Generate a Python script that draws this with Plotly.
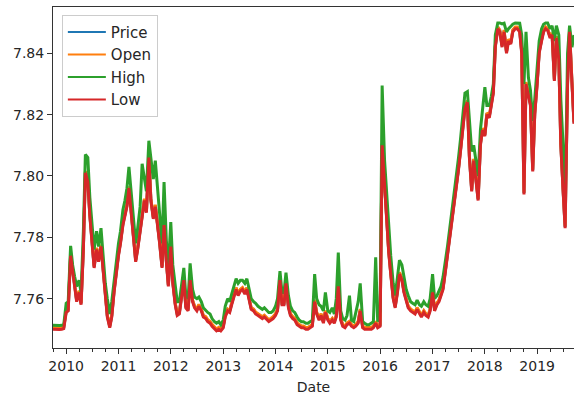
import pandas as pd
import plotly.graph_objects as go

# semi-monthly sampling, 2009-10-01 .. 2019-09-15
DATES = pd.date_range("2009-10-01", periods=240, freq="SMS")

LOW = [
    7.7500, 7.7499, 7.7500, 7.7499, 7.7500, 7.7502,
    7.7555, 7.7560, 7.7740, 7.7680, 7.7640, 7.7590,
    7.7620, 7.7580, 7.7760, 7.8010, 7.7980, 7.7870,
    7.7780, 7.7700, 7.7760, 7.7720, 7.7770, 7.7700,
    7.7600, 7.7540, 7.7505, 7.7540, 7.7620, 7.7680,
    7.7740, 7.7780, 7.7840, 7.7870, 7.7900, 7.7960,
    7.7880, 7.7800, 7.7720, 7.7760, 7.7820, 7.7880,
    7.7920, 7.7880, 7.8060, 7.7920, 7.7860, 7.7900,
    7.7840, 7.7780, 7.7700, 7.7840, 7.7720, 7.7640,
    7.7770, 7.7650, 7.7580, 7.7545, 7.7550, 7.7600,
    7.7660, 7.7570, 7.7560, 7.7660, 7.7590, 7.7570,
    7.7560, 7.7575, 7.7560, 7.7540, 7.7535, 7.7525,
    7.7520, 7.7510, 7.7500, 7.7495, 7.7500, 7.7495,
    7.7505, 7.7540, 7.7560, 7.7555, 7.7580, 7.7600,
    7.7630, 7.7610, 7.7625, 7.7630, 7.7615, 7.7630,
    7.7600, 7.7565, 7.7560, 7.7550, 7.7545, 7.7540,
    7.7535, 7.7540, 7.7530, 7.7525, 7.7530, 7.7535,
    7.7545, 7.7560, 7.7660, 7.7580, 7.7580, 7.7650,
    7.7570, 7.7545, 7.7535, 7.7530, 7.7515, 7.7510,
    7.7505, 7.7505, 7.7500, 7.7500, 7.7505, 7.7510,
    7.7590, 7.7550, 7.7530, 7.7545, 7.7520, 7.7555,
    7.7530, 7.7520, 7.7530, 7.7520, 7.7540, 7.7640,
    7.7530, 7.7510, 7.7505, 7.7515, 7.7520, 7.7510,
    7.7505, 7.7510, 7.7520, 7.7560, 7.7505, 7.7500,
    7.7500, 7.7500, 7.7500, 7.7505, 7.7520, 7.7505,
    7.7510, 7.8100, 7.7960, 7.7860, 7.7750, 7.7680,
    7.7600, 7.7570, 7.7620, 7.7680, 7.7660, 7.7620,
    7.7590, 7.7570, 7.7560, 7.7555, 7.7550, 7.7565,
    7.7550, 7.7540, 7.7555, 7.7545, 7.7540, 7.7560,
    7.7620, 7.7560, 7.7580, 7.7590, 7.7610, 7.7630,
    7.7690, 7.7740, 7.7790, 7.7840, 7.7900, 7.7950,
    7.8020, 7.8080, 7.8150, 7.8220, 7.8240, 7.8060,
    7.7950, 7.8050, 7.7980, 7.7920, 7.8100, 7.8150,
    7.8130, 7.8200, 7.8190, 7.8230, 7.8270, 7.8420,
    7.8480, 7.8470, 7.8420, 7.8470, 7.8400, 7.8440,
    7.8430, 7.8470, 7.8480, 7.8480, 7.8470, 7.8400,
    7.7940, 7.8300, 7.8260, 7.8230, 7.8015, 7.8200,
    7.8300, 7.8400, 7.8440, 7.8470, 7.8480, 7.8475,
    7.8450, 7.8460, 7.8310, 7.8450, 7.8380, 7.8100,
    7.7950, 7.7830, 7.8300, 7.8470, 7.8300, 7.8170,
]

HIGH = [
    7.7513, 7.7512, 7.7513, 7.7512, 7.7513, 7.7515,
    7.7585, 7.7590, 7.7772, 7.7710, 7.7672, 7.7640,
    7.7660, 7.7620, 7.7820, 7.8070, 7.8060, 7.7930,
    7.7840, 7.7760, 7.7820, 7.7770, 7.7830, 7.7740,
    7.7650, 7.7600, 7.7550, 7.7590, 7.7660, 7.7720,
    7.7780, 7.7820, 7.7890, 7.7920, 7.7960, 7.8030,
    7.7940, 7.7870, 7.7780, 7.7830, 7.7900, 7.8040,
    7.7990, 7.7950, 7.8115, 7.8060, 7.7990, 7.8050,
    7.7960, 7.7860, 7.7780, 7.7980, 7.7790, 7.7700,
    7.7850, 7.7710, 7.7640, 7.7590, 7.7590, 7.7640,
    7.7700, 7.7610, 7.7600, 7.7715, 7.7630, 7.7605,
    7.7600, 7.7605, 7.7590, 7.7570, 7.7560, 7.7555,
    7.7550, 7.7535, 7.7525, 7.7520, 7.7525, 7.7515,
    7.7530, 7.7575, 7.7600, 7.7590, 7.7615, 7.7640,
    7.7665, 7.7650, 7.7660, 7.7660, 7.7650, 7.7665,
    7.7635, 7.7600, 7.7590, 7.7585, 7.7575, 7.7570,
    7.7565, 7.7570, 7.7560, 7.7555, 7.7555, 7.7560,
    7.7575, 7.7600, 7.7690, 7.7620, 7.7620, 7.7685,
    7.7610, 7.7575, 7.7560, 7.7555, 7.7540, 7.7530,
    7.7525, 7.7525, 7.7520, 7.7520, 7.7525, 7.7530,
    7.7680, 7.7600, 7.7580, 7.7575, 7.7560, 7.7620,
    7.7560, 7.7555, 7.7570, 7.7550, 7.7600, 7.7750,
    7.7560, 7.7535, 7.7530, 7.7545, 7.7610, 7.7530,
    7.7525, 7.7560, 7.7590, 7.7650, 7.7525, 7.7520,
    7.7515, 7.7515, 7.7520, 7.7525, 7.7735, 7.7525,
    7.7560, 7.8295, 7.8050, 7.7940, 7.7820, 7.7740,
    7.7650, 7.7610, 7.7670, 7.7725, 7.7710, 7.7665,
    7.7630, 7.7610, 7.7590, 7.7585, 7.7580, 7.7595,
    7.7580, 7.7575, 7.7590, 7.7580, 7.7575, 7.7600,
    7.7680, 7.7600, 7.7610, 7.7625, 7.7640, 7.7670,
    7.7720, 7.7770, 7.7830, 7.7880, 7.7940, 7.8000,
    7.8060, 7.8120, 7.8200, 7.8270, 7.8275, 7.8180,
    7.8080, 7.8100, 7.8050, 7.8000, 7.8150, 7.8210,
    7.8290, 7.8230, 7.8230, 7.8260, 7.8300, 7.8460,
    7.8499, 7.8499, 7.8496, 7.8498, 7.8470, 7.8480,
    7.8490, 7.8495, 7.8499, 7.8499, 7.8498, 7.8460,
    7.8300, 7.8470, 7.8320, 7.8280, 7.8180, 7.8250,
    7.8340, 7.8440, 7.8480, 7.8495, 7.8499, 7.8499,
    7.8480, 7.8490, 7.8440, 7.8490, 7.8460, 7.8250,
    7.8100, 7.7900, 7.8400, 7.8490, 7.8420, 7.8460,
]

PRICE = [
    7.7504, 7.7503, 7.7504, 7.7503, 7.7504, 7.7506,
    7.7559, 7.7564, 7.7744, 7.7684, 7.7644, 7.7594,
    7.7624, 7.7584, 7.7764, 7.8014, 7.7984, 7.7874,
    7.7784, 7.7704, 7.7764, 7.7724, 7.7774, 7.7704,
    7.7604, 7.7544, 7.7509, 7.7544, 7.7624, 7.7684,
    7.7744, 7.7784, 7.7844, 7.7874, 7.7904, 7.7964,
    7.7884, 7.7804, 7.7724, 7.7764, 7.7824, 7.7884,
    7.7924, 7.7884, 7.8064, 7.7924, 7.7864, 7.7904,
    7.7844, 7.7784, 7.7704, 7.7844, 7.7724, 7.7644,
    7.7774, 7.7654, 7.7584, 7.7549, 7.7554, 7.7604,
    7.7664, 7.7574, 7.7564, 7.7664, 7.7594, 7.7574,
    7.7564, 7.7579, 7.7564, 7.7544, 7.7539, 7.7529,
    7.7524, 7.7514, 7.7504, 7.7499, 7.7504, 7.7499,
    7.7509, 7.7544, 7.7564, 7.7559, 7.7584, 7.7604,
    7.7634, 7.7614, 7.7629, 7.7634, 7.7619, 7.7634,
    7.7604, 7.7569, 7.7564, 7.7554, 7.7549, 7.7544,
    7.7539, 7.7544, 7.7534, 7.7529, 7.7534, 7.7539,
    7.7549, 7.7564, 7.7664, 7.7584, 7.7584, 7.7654,
    7.7574, 7.7549, 7.7539, 7.7534, 7.7519, 7.7514,
    7.7509, 7.7509, 7.7504, 7.7504, 7.7509, 7.7514,
    7.7594, 7.7554, 7.7534, 7.7549, 7.7524, 7.7559,
    7.7534, 7.7524, 7.7534, 7.7524, 7.7544, 7.7644,
    7.7534, 7.7514, 7.7509, 7.7519, 7.7524, 7.7514,
    7.7509, 7.7514, 7.7524, 7.7564, 7.7509, 7.7504,
    7.7504, 7.7504, 7.7504, 7.7509, 7.7524, 7.7509,
    7.7514, 7.8104, 7.7964, 7.7864, 7.7754, 7.7684,
    7.7604, 7.7574, 7.7624, 7.7684, 7.7664, 7.7624,
    7.7594, 7.7574, 7.7564, 7.7559, 7.7554, 7.7569,
    7.7554, 7.7544, 7.7559, 7.7549, 7.7544, 7.7564,
    7.7624, 7.7564, 7.7584, 7.7594, 7.7614, 7.7634,
    7.7694, 7.7744, 7.7794, 7.7844, 7.7904, 7.7954,
    7.8024, 7.8084, 7.8154, 7.8224, 7.8244, 7.8064,
    7.7954, 7.8054, 7.7984, 7.7924, 7.8104, 7.8154,
    7.8134, 7.8204, 7.8194, 7.8234, 7.8274, 7.8424,
    7.8484, 7.8474, 7.8424, 7.8474, 7.8404, 7.8444,
    7.8434, 7.8474, 7.8484, 7.8484, 7.8474, 7.8404,
    7.7944, 7.8304, 7.8264, 7.8234, 7.8019, 7.8204,
    7.8304, 7.8404, 7.8444, 7.8474, 7.8484, 7.8479,
    7.8454, 7.8464, 7.8314, 7.8454, 7.8384, 7.8104,
    7.7954, 7.7834, 7.8304, 7.8474, 7.8304, 7.8174,
]

OPEN = [
    7.7506, 7.7505, 7.7506, 7.7505, 7.7506, 7.7508,
    7.7561, 7.7566, 7.7746, 7.7686, 7.7646, 7.7596,
    7.7626, 7.7586, 7.7766, 7.8016, 7.7986, 7.7876,
    7.7786, 7.7706, 7.7766, 7.7726, 7.7776, 7.7706,
    7.7606, 7.7546, 7.7511, 7.7546, 7.7626, 7.7686,
    7.7746, 7.7786, 7.7846, 7.7876, 7.7906, 7.7966,
    7.7886, 7.7806, 7.7726, 7.7766, 7.7826, 7.7886,
    7.7926, 7.7886, 7.8066, 7.7926, 7.7866, 7.7906,
    7.7846, 7.7786, 7.7706, 7.7846, 7.7726, 7.7646,
    7.7776, 7.7656, 7.7586, 7.7551, 7.7556, 7.7606,
    7.7666, 7.7576, 7.7566, 7.7666, 7.7596, 7.7576,
    7.7566, 7.7581, 7.7566, 7.7546, 7.7541, 7.7531,
    7.7526, 7.7516, 7.7506, 7.7501, 7.7506, 7.7501,
    7.7511, 7.7546, 7.7566, 7.7561, 7.7586, 7.7606,
    7.7636, 7.7616, 7.7631, 7.7636, 7.7621, 7.7636,
    7.7606, 7.7571, 7.7566, 7.7556, 7.7551, 7.7546,
    7.7541, 7.7546, 7.7536, 7.7531, 7.7536, 7.7541,
    7.7551, 7.7566, 7.7666, 7.7586, 7.7586, 7.7656,
    7.7576, 7.7551, 7.7541, 7.7536, 7.7521, 7.7516,
    7.7511, 7.7511, 7.7506, 7.7506, 7.7511, 7.7516,
    7.7596, 7.7556, 7.7536, 7.7551, 7.7526, 7.7561,
    7.7536, 7.7526, 7.7536, 7.7526, 7.7546, 7.7646,
    7.7536, 7.7516, 7.7511, 7.7521, 7.7526, 7.7516,
    7.7511, 7.7516, 7.7526, 7.7566, 7.7511, 7.7506,
    7.7506, 7.7506, 7.7506, 7.7511, 7.7526, 7.7511,
    7.7516, 7.8106, 7.7966, 7.7866, 7.7756, 7.7686,
    7.7606, 7.7576, 7.7626, 7.7686, 7.7666, 7.7626,
    7.7596, 7.7576, 7.7566, 7.7561, 7.7556, 7.7571,
    7.7556, 7.7546, 7.7561, 7.7551, 7.7546, 7.7566,
    7.7626, 7.7566, 7.7586, 7.7596, 7.7616, 7.7636,
    7.7696, 7.7746, 7.7796, 7.7846, 7.7906, 7.7956,
    7.8026, 7.8086, 7.8156, 7.8226, 7.8246, 7.8066,
    7.7956, 7.8056, 7.7986, 7.7926, 7.8106, 7.8156,
    7.8136, 7.8206, 7.8196, 7.8236, 7.8276, 7.8426,
    7.8486, 7.8476, 7.8426, 7.8476, 7.8406, 7.8446,
    7.8436, 7.8476, 7.8486, 7.8486, 7.8476, 7.8406,
    7.7946, 7.8306, 7.8266, 7.8236, 7.8021, 7.8206,
    7.8306, 7.8406, 7.8446, 7.8476, 7.8486, 7.8481,
    7.8456, 7.8466, 7.8316, 7.8456, 7.8386, 7.8106,
    7.7956, 7.7836, 7.8306, 7.8476, 7.8306, 7.8176,
]

SERIES = [("Price", PRICE, "#1f77b4"), ("Open", OPEN, "#ff7f0e"),
          ("High", HIGH, "#2ca02c"), ("Low", LOW, "#d62728")]

FONT = "DejaVu Sans"
TXT = "#262626"

fig = go.Figure()
for name, vals, col in SERIES:
    fig.add_trace(go.Scatter(x=DATES, y=vals, mode="lines", name=name,
                             legendgroup=name, showlegend=False,
                             line=dict(color=col, width=3)))
# legend entries drawn with the thinner matplotlib-like sample line
for name, vals, col in SERIES:
    fig.add_trace(go.Scatter(x=[None], y=[None], mode="lines", name=name,
                             legendgroup=name, showlegend=True,
                             line=dict(color=col, width=2)))

fig.update_layout(
    width=574, height=395,
    margin=dict(l=53, r=0, t=7, b=47),
    paper_bgcolor="white", plot_bgcolor="white",
    font=dict(family=FONT, size=14, color=TXT),
    showlegend=True,
    legend=dict(x=0.017, y=0.977, xanchor="left", yanchor="top",
                bgcolor="rgba(255,255,255,0.8)", bordercolor="#cccccc",
                borderwidth=1, font=dict(family=FONT, size=15, color=TXT),
                itemwidth=38, tracegroupgap=0),
)
fig.update_xaxes(
    type="date", range=[DATES[0], DATES[-1]],
    showgrid=False, zeroline=False,
    showline=True, linecolor="#333333", linewidth=1, mirror=True,
    ticks="outside", ticklen=5, tickcolor="#333333",
    dtick="M12", tick0="2010-01-01", tickformat="%Y",
    minor=dict(ticks="outside", ticklen=3, dtick="M3", tick0="2010-01-01",
               tickcolor="#333333", showgrid=False),
    title=dict(text="Date", font=dict(family=FONT, size=14, color=TXT), standoff=10),
    tickfont=dict(family=FONT, size=14, color=TXT),
)
fig.update_yaxes(
    range=[7.7439, 7.8551],
    showgrid=False, zeroline=False,
    showline=True, linecolor="#333333", linewidth=1,
    ticks="outside", ticklen=5, tickcolor="#333333",
    tickvals=[7.76, 7.78, 7.80, 7.82, 7.84],
    ticktext=["7.76", "7.78", "7.80", "7.82", "7.84"],
    tickfont=dict(family=FONT, size=14, color=TXT),
)

fig.write_html("out.html", config={"displayModeBar": False},
               post_script="document.body.style.margin='0';document.body.style.overflow='hidden';")
